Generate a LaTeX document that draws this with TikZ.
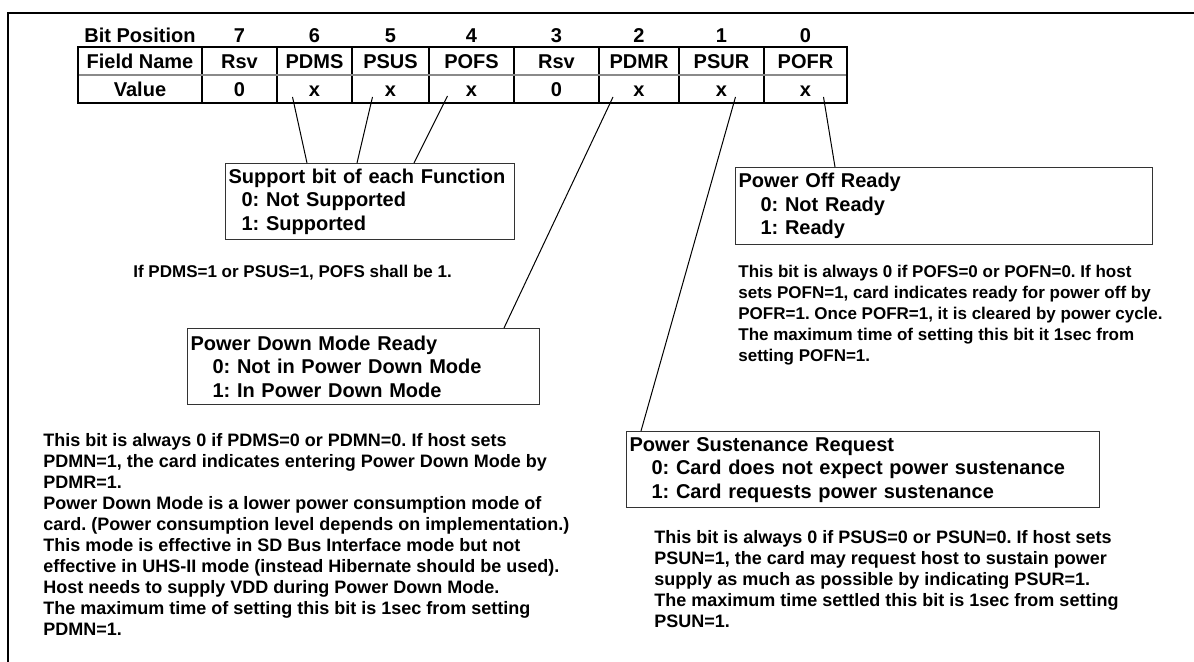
\documentclass[tikz,border=0pt]{standalone}
\usepackage{fontspec}
\setmainfont{Liberation Sans}
\usetikzlibrary{calc,positioning}
\definecolor{boxgray}{HTML}{333333}
\definecolor{rulegray}{HTML}{8A8A8A}
\newcommand{\ind}[1][11pt]{\hspace*{#1}}
\frenchspacing
\tikzset{
  tabtext/.style={font=\bfseries\fontsize{10}{12}\selectfont,text height=7.2pt,text depth=0pt,inner sep=0pt},
  tabouter/.style={line width=1.2pt},
  tabinner/.style={line width=0.7pt},
  tabmid/.style={line width=0.6pt,draw=rulegray},
  infobox/.style={draw=boxgray,line width=0.6pt,anchor=north west,align=left,
    font=\bfseries\fontsize{10}{11.75}\selectfont,inner xsep=1.5pt,inner ysep=0pt},
  note/.style={anchor=north west,align=left,inner sep=0pt,
    font=\bfseries\fontsize{9}{10.5}\selectfont},
  smallnote/.style={note,font=\bfseries\fontsize{8.5}{10.5}\selectfont},
  link/.style={line width=0.5pt,draw=black},
  frame/.style={line width=1pt}
}

\begin{document}
\begin{tikzpicture}[x=0.5pt,y=-0.5pt]
\useasboundingbox (0,0) rectangle (1194,662);
\draw[frame] (8,662) -- (8,13) -- (1194,13);
% register table
\node[tabtext] (bpos) at (140,35) {Bit Position};
\node[tabtext] (fname) at (140,61) {Field Name};
\node[tabtext] (vname) at (140,89) {Value};
\foreach \xa/\xb/\b/\fld/\val in {202/277/7/Rsv/0, 277/352/6/PDMS/x, 352/429/5/PSUS/x,
  429/514/4/POFS/x, 514/599/3/Rsv/0, 599/679/2/PDMR/x, 679/764/1/PSUR/x, 764/847/0/POFR/x}{
  \node[tabtext] (b\b) at ({(\xa+\xb)/2},35) {\b};
  \node[tabtext] (f\b) at ({(\xa+\xb)/2},61) {\fld};
  \node[tabtext] (v\b) at ({(\xa+\xb)/2},89) {\val};
  \draw[tabinner] (\xa,47) -- (\xa,103);
}
\draw[tabmid] (78,75) -- (847,75);
\draw[tabouter] (78,47) rectangle (847,103);
% description boxes
\node[infobox,text width=141.5pt,minimum height=38pt] (supbox) at (225,163)
  {Support bit of each Function\\\ind[6.5pt]0: Not Supported\\\ind[6.5pt]1: Supported};
\node[infobox,text width=173pt,minimum height=38pt] (pdmbox) at (187,328)
  {Power Down Mode Ready\\\ind 0: Not in Power Down Mode\\\ind 1: In Power Down Mode};
\node[infobox,text width=205.5pt,minimum height=38.5pt] (pofbox) at (735,167)
  {Power Off Ready\\\ind 0: Not Ready\\\ind 1: Ready};
\node[infobox,text width=233.5pt,minimum height=38pt] (psubox) at (626,431)
  {Power Sustenance Request\\\ind 0: Card does not expect power sustenance\\\ind 1: Card requests power sustenance};
% pointers from the value cells
\draw[link] ($(v6)+(-22,8)$) -- ($(supbox.north west)+(82,0)$);
\draw[link] ($(v5)+(-18,8)$) -- ($(supbox.north west)+(132,0)$);
\draw[link] ($(v4)+(-24,7)$) -- ($(supbox.north west)+(189,0)$);
\draw[link] ($(v2)+(-26,8)$) -- ($(pdmbox.north west)+(317,0)$);
\draw[link] ($(v1)+(14,8)$) -- ($(psubox.north west)+(15,0)$);
\draw[link] ($(v0)+(18,8)$) -- ($(pofbox.north west)+(100,0)$);
% notes
\node[smallnote] (ifnote) at (133,265) {If PDMS=1 or PSUS=1, POFS shall be 1.};
\node[note] (pdmnote) at (43,433) {This bit is always 0 if PDMS=0 or PDMN=0. If host sets\\
PDMN=1, the card indicates entering Power Down Mode by\\
PDMR=1.\\
Power Down Mode is a lower power consumption mode of\\
card. (Power consumption level depends on implementation.)\\
This mode is effective in SD Bus Interface mode but not\\
effective in UHS-II mode (instead Hibernate should be used).\\
Host needs to supply VDD during Power Down Mode.\\
The maximum time of setting this bit is 1sec from setting\\
PDMN=1.};
\node[smallnote] (pofnote) at (738,265) {This bit is always 0 if POFS=0 or POFN=0. If host\\
sets POFN=1, card indicates ready for power off by\\
POFR=1. Once POFR=1, it is cleared by power cycle.\\
The maximum time of setting this bit it 1sec from\\
setting POFN=1.};
\node[note] (psunote) at (654,530) {This bit is always 0 if PSUS=0 or PSUN=0. If host sets\\
PSUN=1, the card may request host to sustain power\\
supply as much as possible by indicating PSUR=1.\\
The maximum time settled this bit is 1sec from setting\\
PSUN=1.};
\end{tikzpicture}
\end{document}
